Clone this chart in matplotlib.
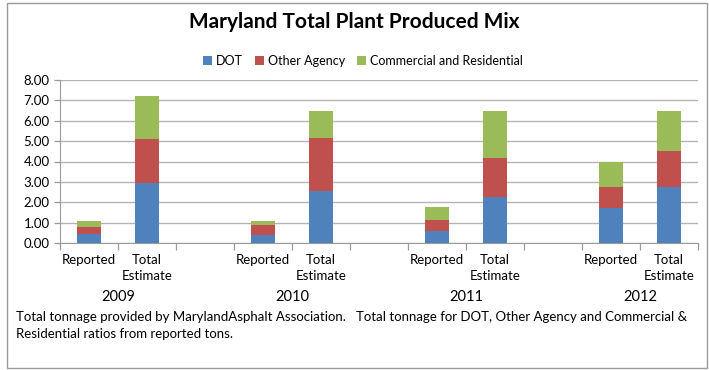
import matplotlib
matplotlib.use("Agg")
import matplotlib.pyplot as plt
from matplotlib.patches import Rectangle
import numpy as np

plt.rcParams['font.family'] = ['Lato', 'DejaVu Sans']

years = ["2009", "2010", "2011", "2012"]
bar_labels = ["Reported", "Total\nEstimate"]
series_names = ["DOT", "Other Agency", "Commercial and Residential"]
dot = [0.45, 2.94, 0.41, 2.53, 0.60, 2.25, 1.71, 2.76]
other = [0.32, 2.15, 0.46, 2.61, 0.53, 1.90, 1.05, 1.75]
commercial = [0.29, 2.11, 0.19, 1.34, 0.62, 2.33, 1.24, 1.97]
colors = ["#4F81BD", "#C0504D", "#9BBB59"]
yticks = [0, 1, 2, 3, 4, 5, 6, 7, 8]

# positions: each year has 2 bars followed by a blank slot
pos = []
for i in range(len(years)):
    pos += [3 * i, 3 * i + 1]
pos = np.array(pos)

fig = plt.figure(figsize=(7.09, 3.70), dpi=100)
ax = fig.add_axes([60/709, 1 - 243/370, 638/709, 163/370])

bottom = np.zeros(len(pos))
for vals, name, c in zip([dot, other, commercial], series_names, colors):
    ax.bar(pos, vals, width=0.4, bottom=bottom, color=c, label=name, zorder=3)
    bottom += np.array(vals)

ax.set_xlim(-0.5, 10.5)
ax.set_ylim(0, 8)
ax.set_yticks(yticks)
ax.set_yticklabels([f"{v:.2f}" for v in yticks], fontsize=9.5)
ax.grid(axis='y', color='#b4b4b4', linewidth=1.0, zorder=0)
for s in ['top', 'right']:
    ax.spines[s].set_visible(False)
for s in ['left', 'bottom']:
    ax.spines[s].set_color('#9a9a9a')
ax.tick_params(axis='y', colors='#9a9a9a', labelcolor='black', length=4, width=0.9)

# major ticks at slot boundaries (no labels), minor ticks at bar centers (labels)
ax.set_xticks(np.arange(-0.5, 11, 1))
ax.set_xticklabels([])
ax.tick_params(axis='x', which='major', length=5, colors='#9a9a9a', width=0.9)
ax.set_xticks(pos, minor=True)
ax.set_xticklabels(bar_labels * len(years), minor=True, fontsize=9.5)
ax.tick_params(axis='x', which='minor', length=0, pad=8)
for lbl in ax.get_xticklabels(minor=True):
    lbl.set_linespacing(1.35)
    lbl.set_verticalalignment('top')

for i, y in enumerate(years):
    ax.text(3 * i + 0.5, -0.33, y, transform=ax.get_xaxis_transform(),
            ha='center', va='center', fontsize=10.5)

fig.text(0.5, 1 - 22/370, "Maryland Total Plant Produced Mix", ha='center', va='center',
         fontsize=15, fontweight='bold')
fig.legend(loc='center', bbox_to_anchor=(363/709, 1 - 61/370), ncol=3, frameon=False,
           fontsize=9, handlelength=0.7, handleheight=0.7, handletextpad=0.3,
           columnspacing=1.0)

fig.text(16/709, 1 - 325.5/370,
         "Total tonnage provided by MarylandAsphalt Association.   Total tonnage for DOT, Other Agency and Commercial &\nResidential ratios from reported tons.",
         ha='left', va='center', fontsize=9.5, linespacing=1.55)

fig.patches.append(Rectangle((7/709, 2/370), 700/709, 365/370, transform=fig.transFigure,
                             fill=False, edgecolor='#9a9a9a', linewidth=1))

fig.savefig("out.png", dpi=100)
